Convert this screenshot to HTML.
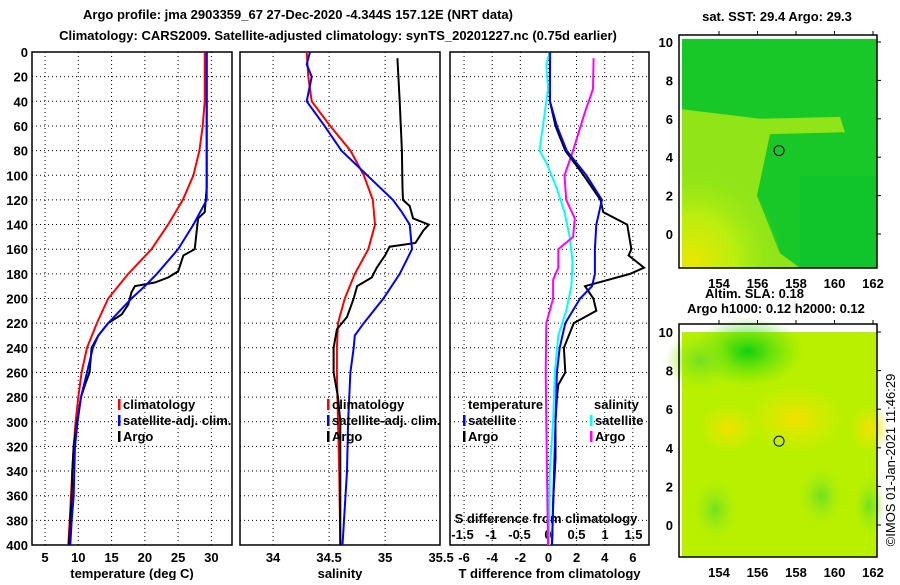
<!DOCTYPE html>
<html><head><meta charset="utf-8"><style>
body{margin:0;background:#fff}
svg text{font-family:"Liberation Sans",sans-serif;font-weight:bold;font-size:13px;fill:#000}
</style></head><body>
<svg id="c" width="900" height="580" viewBox="0 0 900 580" xmlns="http://www.w3.org/2000/svg">
<defs>
<radialGradient id="ylw1" cx="0.1" cy="0.95" r="0.8"><stop offset="0" stop-color="#e8e800"/><stop offset="0.5" stop-color="#b8ee10"/><stop offset="1" stop-color="#90e818" stop-opacity="0"/></radialGradient>
<radialGradient id="grn2" cx="0.5" cy="0.5" r="0.5"><stop offset="0" stop-color="#10d010"/><stop offset="1" stop-color="#50e010" stop-opacity="0"/></radialGradient>
<radialGradient id="yb2" cx="0.5" cy="0.5" r="0.5"><stop offset="0" stop-color="#f4e000"/><stop offset="1" stop-color="#e0ec00" stop-opacity="0"/></radialGradient>
<radialGradient id="gb2" cx="0.5" cy="0.5" r="0.5"><stop offset="0" stop-color="#70e020"/><stop offset="1" stop-color="#a0ec10" stop-opacity="0"/></radialGradient>
</defs>
<text x="298" y="19" text-anchor="middle" font-size="14">Argo profile: jma 2903359_67 27-Dec-2020 -4.344S 157.12E (NRT data)</text>
<text x="338" y="40" text-anchor="middle" font-size="14">Climatology: CARS2009. Satellite-adjusted climatology: synTS_20201227.nc (0.75d earlier)</text>
<g id="maps"></g>
<g id="plots"></g>
</svg>
<script>
// ---- data ----
const tClimDepth=[0,20,40,60,80,100,120,140,160,180,200,220,240,260,280,300,320,340,360,380,400];
const tClim=[29.0,29.0,29.0,28.7,28.2,27.3,25.7,23.5,21.0,17.5,14.5,12.8,11.3,10.5,10.0,9.6,9.3,9.1,8.9,8.7,8.5];
const tSatDepth=[0,120,130,140,160,180,190,200,220,230,240,260,280,300,320,340,360,380,400];
const tSat=[29.3,29.3,28.3,27.3,25.0,21.8,20.0,18.0,14.5,13.0,12.2,11.3,10.4,9.9,9.5,9.4,9.3,9.0,8.8];
const tArgoDepth=[0,110,130,135,160,165,178,183,187,190,195,205,213,220,230,240,260,270,280,300,320,340,360,380,400];
const tArgo=[29.3,29.3,29.0,28.0,27.5,25.8,25.0,23.5,21.5,18.5,18.0,17.5,16.5,14.5,13.0,12.0,11.7,11.0,10.4,9.8,9.3,9.1,9.0,8.8,8.6];
const sClimDepth=[0,20,40,60,80,100,120,140,160,180,200,220,240,260,300,340,400];
const sClim=[34.30,34.315,34.345,34.51,34.69,34.81,34.89,34.91,34.85,34.73,34.64,34.58,34.57,34.57,34.58,34.59,34.60];
const sSatDepth=[0,10,20,40,60,80,100,120,130,140,160,180,200,220,230,240,260,300,340,400];
const sSat=[34.33,34.30,34.345,34.30,34.46,34.61,34.84,35.07,35.15,35.22,35.24,35.13,34.985,34.81,34.73,34.72,34.69,34.67,34.66,34.62];
const sArgoDepth=[5,40,80,110,120,125,135,140,145,155,158,165,175,183,190,200,215,225,240,260,280,300,340,400];
const sArgo=[35.11,35.13,35.15,35.155,35.16,35.22,35.25,35.39,35.34,35.27,35.04,35.0,34.925,34.88,34.75,34.72,34.66,34.57,34.54,34.54,34.58,34.60,34.60,34.60];
const dtSatDepth=[0,40,60,80,100,120,140,160,180,190,200,220,240,260,300,400];
const dtSat=[0.12,0.1,0.6,1.3,2.7,3.8,3.4,3.3,3.3,3.1,2.25,1.2,0.8,0.6,0.5,0.25];
const dtArgoDepth=[0,40,60,80,100,120,130,140,160,165,175,180,190,200,210,220,240,260,270,280,300,330,360,400];
const dtArgo=[0.1,0.1,0.5,1.2,2.5,3.7,3.9,5.6,5.9,5.7,6.8,5.8,2.6,3.2,3.4,1.8,1.1,1.2,0.7,0.6,0.5,0.5,0.35,0.25];
const dsSatDepth=[0,10,30,60,80,90,110,130,150,170,190,210,230,260,300,340,400];
const dsSat=[0.03,-0.03,0,-0.09,-0.15,-0.03,0.15,0.29,0.38,0.43,0.41,0.32,0.18,0.12,0.09,0.03,0.02];
const dsArgoDepth=[5,30,50,80,100,120,135,150,160,175,185,200,220,260,300,400];
const dsArgo=[0.80,0.79,0.64,0.44,0.29,0.32,0.47,0.44,0.18,0.18,0.09,0.09,-0.03,-0.04,-0.03,0];
const depthTicks=[0,20,40,60,80,100,120,140,160,180,200,220,240,260,280,300,320,340,360,380,400];
const tTicks=[5,10,15,20,25,30];
const sTicks=[34,34.5,35,35.5];
const dtTicks=[-6,-4,-2,0,2,4,6];
const dsTicks=[-1.5,-1,-0.5,0,0.5,1,1.5];
const lonTicks=[154,156,158,160,162];
const latTicks=[0,2,4,6,8,10];

const NS='http://www.w3.org/2000/svg';
function mk(tag,attrs,parent,txt){const e=document.createElementNS(NS,tag);for(const k in attrs)e.setAttribute(k,attrs[k]);if(txt!==undefined)e.textContent=txt;parent.appendChild(e);return e;}
const plots=document.getElementById('plots');
const Y0=52,Y1=545;
const yD=d=>Y0+(Y1-Y0)*d/400;

function panel(name,x0,x1,xmin,xmax,ticks,showY,label){
  const g=mk('g',{},plots);
  
  
  const xs=v=>x0+(x1-x0)*(v-xmin)/(xmax-xmin);
  depthTicks.forEach(d=>{if(d>0&&d<400){const l=mk('line',{x1:x0,x2:x1,y1:yD(d),y2:yD(d),stroke:'#000','stroke-width':1,'stroke-dasharray':'1,3'},g);}});
  ticks.forEach(v=>{const X=xs(v);if(X>x0+1&&X<x1-1){const l=mk('line',{x1:X,x2:X,y1:Y0,y2:Y1,stroke:'#000','stroke-width':1,'stroke-dasharray':'1,3'},g);}
    const t=mk('text',{x:X,y:Y1+17,'text-anchor':'middle'},g,String(v));});
  if(showY){depthTicks.forEach(d=>{const t=mk('text',{x:28,y:yD(d)+5,'text-anchor':'end'},g,String(d));});}
  const r=mk('rect',{x:x0,y:Y0,width:x1-x0,height:Y1-Y0,fill:'none',stroke:'#000','stroke-width':1.5},g);
  
  const lt=mk('text',{x:(x0+x1)/2,y:578,'text-anchor':'middle'},g,label);
  
  return {g,xs};
}
function curve(p,xs,depths,vals,color,name){
  const pts=depths.map((d,i)=>xs(vals[i]).toFixed(1)+','+yD(d).toFixed(1)).join(' ');
  const pl=mk('polyline',{points:pts,fill:'none',stroke:color,'stroke-width':2},p.g);
  
  
}
function legend(g,x,y,color,txt){
  const r=mk('rect',{x:x,y:y-10,width:2.5,height:11,fill:color},g);
  
  const t=mk('text',{x:x+5,y:y},g,txt);
  
}
const p1=panel('temperature-panel',32,232,3.04,33.1,tTicks,true,'temperature (deg C)');
curve(p1,p1.xs,tClimDepth,tClim,'#f00','climatology-temperature-line');
curve(p1,p1.xs,tArgoDepth,tArgo,'#000','argo-temperature-line');
curve(p1,p1.xs,tSatDepth,tSat,'#00f','satellite-temperature-line');
legend(p1.g,118,409,'#f00','climatology');legend(p1.g,118,425,'#00f','satellite-adj. clim.');legend(p1.g,118,441,'#000','Argo');

const p2=panel('salinity-panel',240,440,33.705,35.49,sTicks,false,'salinity');
curve(p2,p2.xs,sClimDepth,sClim,'#f00','climatology-salinity-line');
curve(p2,p2.xs,sArgoDepth,sArgo,'#000','argo-salinity-line');
curve(p2,p2.xs,sSatDepth,sSat,'#00f','satellite-salinity-line');
legend(p2.g,327,409,'#f00','climatology');legend(p2.g,327,425,'#00f','satellite-adj. clim.');legend(p2.g,327,441,'#000','Argo');

const p3=panel('difference-panel',450,649,-7,7.15,dtTicks,false,'T difference from climatology');
const xsS=v=>548+57*v;
dsTicks.forEach(v=>{const t=mk('text',{x:xsS(v),y:539,'text-anchor':'middle'},p3.g,String(v));});
const st=mk('text',{x:546,y:523,'text-anchor':'middle'},p3.g,'S difference from climatology');

curve(p3,xsS,dsSatDepth,dsSat,'#0ff','satellite-salinity-diff-line');
curve(p3,xsS,dsArgoDepth,dsArgo,'#f0f','argo-salinity-diff-line');
curve(p3,p3.xs,dtArgoDepth,dtArgo,'#000','argo-temperature-diff-line');
curve(p3,p3.xs,dtSatDepth,dtSat,'#00f','satellite-temperature-diff-line');
const th=mk('text',{x:468,y:409},p3.g,'temperature');
const sh=mk('text',{x:594,y:409},p3.g,'salinity');
legend(p3.g,463,425,'#00f','satellite');legend(p3.g,463,441,'#000','Argo');
legend(p3.g,590,425,'#0ff','satellite');legend(p3.g,590,441,'#f0f','Argo');

// ---- maps ----
const maps=document.getElementById('maps');
function map(name,top,lat10y,lat0y,kind,labelY){
  const g=mk('g',{},maps);
  
  
  const x0=679,x1=877,y1=top+233;
  const lx=v=>719+(v-154)*19.25;
  const ly=v=>lat0y+(lat10y-lat0y)*v/10;
  if(kind==1){
    mk('rect',{x:682,y:top+4,width:195,height:229,fill:'#18c828'},g);
    mk('path',{d:`M682 ${ly(6.5)} L760 ${ly(6)} L840 ${ly(6.1)} L845 ${ly(5.3)} L770 ${ly(5.2)} L757 ${ly(2)} L780 ${ly(-1)} L800 ${y1} L682 ${y1} Z`,fill:'#90e418'},g);
    mk('rect',{x:682,y:ly(4.5),width:110,height:y1-ly(4.5),fill:'url(#ylw1)'},g);
    mk('rect',{x:800,y:ly(3),width:77,height:y1-ly(3),fill:'#08c030',opacity:0.5},g);
  } else {
    mk('rect',{x:682,y:top+8,width:195,height:225,fill:'#b8f000'},g);
    mk('ellipse',{cx:lx(155.5),cy:ly(9),rx:55,ry:35,fill:'url(#grn2)'},g);
    mk('ellipse',{cx:lx(153),cy:ly(8.5),rx:35,ry:30,fill:'url(#gb2)'},g);
    mk('ellipse',{cx:lx(158),cy:ly(5.5),rx:50,ry:35,fill:'url(#yb2)'},g);
    mk('ellipse',{cx:lx(154.5),cy:ly(5),rx:30,ry:25,fill:'url(#yb2)'},g);
    mk('ellipse',{cx:lx(161.8),cy:ly(5),rx:20,ry:25,fill:'url(#yb2)'},g);
    mk('ellipse',{cx:lx(153.8),cy:ly(0.8),rx:22,ry:30,fill:'url(#gb2)'},g);
    mk('ellipse',{cx:lx(159.3),cy:ly(1.5),rx:22,ry:30,fill:'url(#gb2)'},g);
    mk('ellipse',{cx:lx(161.8),cy:ly(1),rx:15,ry:30,fill:'url(#gb2)'},g);
  }
  const fr=mk('rect',{x:x0,y:top,width:x1-x0,height:233,fill:'none',stroke:'#000','stroke-width':1.5},g);
  
  const c=mk('circle',{cx:lx(157.12),cy:ly(4.344),r:5,fill:'none',stroke:'#000','stroke-width':1},g);
  
  lonTicks.forEach(v=>{mk('line',{x1:lx(v),x2:lx(v),y1:top,y2:top-4,stroke:'#000'},g);
    const t=mk('text',{x:lx(v),y:labelY,'text-anchor':'middle'},g,String(v));});
  latTicks.forEach(v=>{mk('line',{x1:x1,x2:x1+4,y1:ly(v),y2:ly(v),stroke:'#000'},g);
    const t=mk('text',{x:673,y:ly(v)+5,'text-anchor':'end'},g,String(v));});
}
map('sst-map',35,42,234,1,288);
map('sla-map',324,332,525,2,577);
const mt1=mk('text',{x:777,y:21,'text-anchor':'middle'},maps,'sat. SST: 29.4 Argo: 29.3');

const mt2=mk('text',{x:705,y:298},maps,'Altim. SLA: 0.18');

const mt3=mk('text',{x:776,y:313,'text-anchor':'middle'},maps,'Argo h1000: 0.12 h2000: 0.12');

const cr=mk('text',{x:0,y:0,'text-anchor':'middle',transform:'translate(895,460) rotate(-90)',style:'font-weight:normal'},maps,'©IMOS 01-Jan-2021 11:46:29');

</script>
</body></html>
